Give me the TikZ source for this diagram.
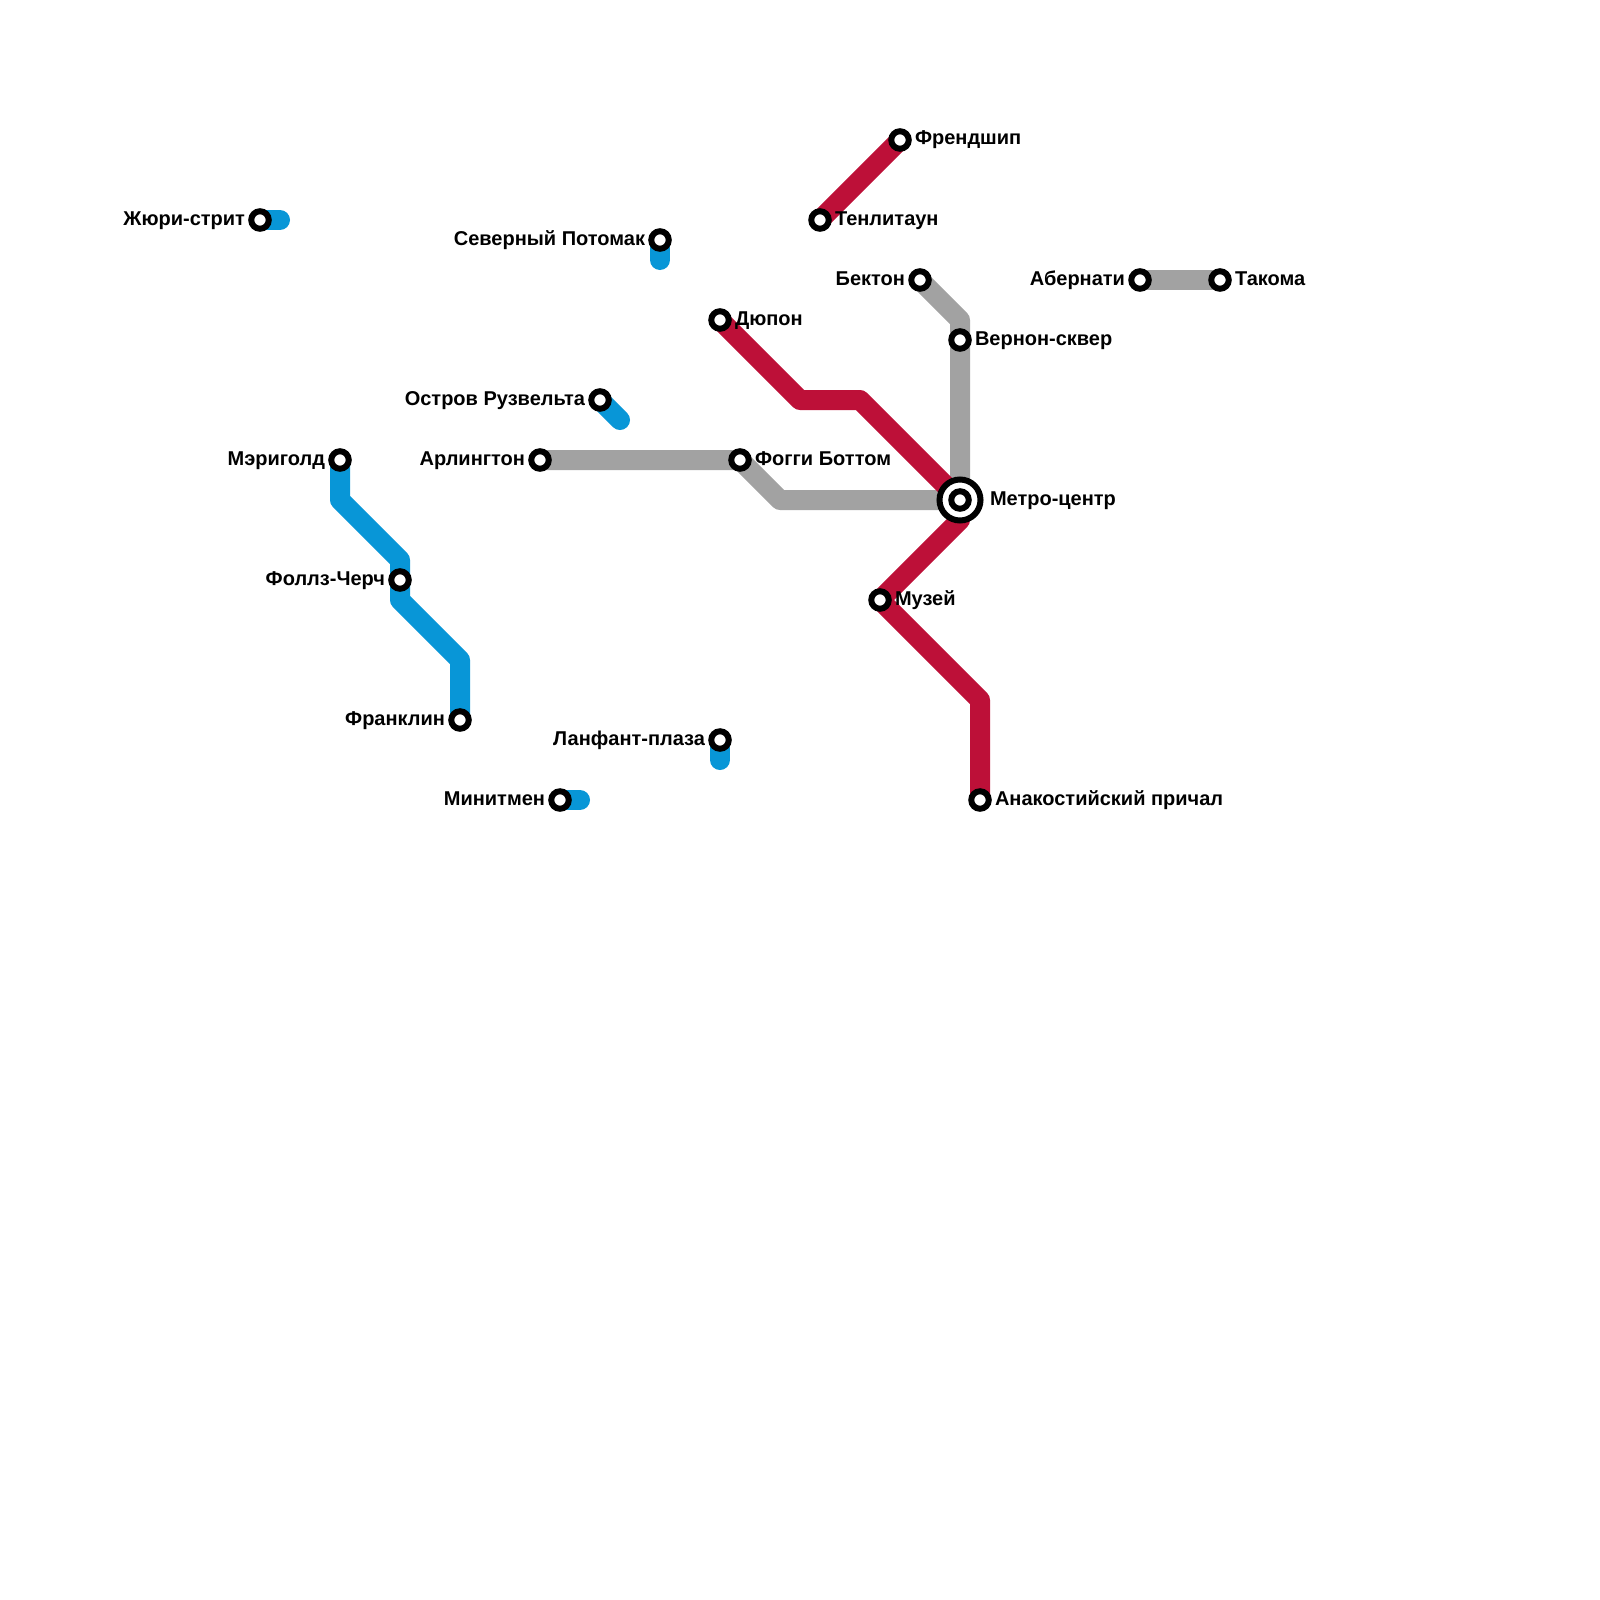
\documentclass[tikz,border=0pt]{standalone}
\usepackage{fontspec}
\setmainfont{Liberation Sans}
\usetikzlibrary{backgrounds}
\definecolor{lblue}{HTML}{0896D7}
\definecolor{lgray}{HTML}{A2A2A2}
\definecolor{lred}{HTML}{BD1038}
\tikzset{
  x=1pt,y=-1pt,
  metroline/.style={line width=20pt,line cap=round,line join=round},
  stn/.style={circle,draw=black,fill=white,line width=6pt,minimum size=17.5pt,inner sep=0pt,outer sep=0pt},
  hub/.style={circle,draw=black,fill=white,line width=6pt,minimum size=41pt,inner sep=0pt,outer sep=0pt},
  lab/.style={inner sep=0pt,outer sep=0pt,font=\bfseries\fontsize{20pt}{22pt}\selectfont,text=black},
  labr/.style={lab,anchor=base west},
  labl/.style={lab,anchor=base east},
}
\begin{document}
\begin{tikzpicture}
\useasboundingbox (0,0) rectangle (1600,1600);
% stations
\node[hub] (metrohub) at (960,500) {};
\node[stn] (metro) at (960,500) {};
\foreach \n/\x/\y in {juri/260/220,marigold/340/460,falls/400/580,franklin/460/720,potomac/660/240,island/600/400,arlington/540/460,foggy/740/460,bekton/920/280,vernon/960/340,abernathy/1140/280,takoma/1220/280,dupont/720/320,friendship/900/140,tenley/820/220,museum/880/600,wharf/980/800,lenfant/720/740,minuteman/560/800}
  {\node[stn] (\n) at (\x,\y) {};}
% bends and free ends
\coordinate (b1) at (340,500);
\coordinate (b2) at (400,560);
\coordinate (b3) at (400,600);
\coordinate (b4) at (460,660);
\coordinate (e1) at (280,220);
\coordinate (e2) at (660,260);
\coordinate (e3) at (620,420);
\coordinate (e4) at (720,760);
\coordinate (e5) at (580,800);
\coordinate (g1) at (780,500);
\coordinate (g2) at (960,320);
\coordinate (r1) at (800,400);
\coordinate (r2) at (860,400);
\coordinate (r3) at (980,700);
\coordinate (r4) at (960,520);
\begin{scope}[on background layer]
\draw[metroline,lblue] (juri.center) -- (e1);
\draw[metroline,lblue] (marigold.center) -- (b1) -- (b2) -- (falls.center) -- (b3) -- (b4) -- (franklin.center);
\draw[metroline,lblue] (potomac.center) -- (e2);
\draw[metroline,lblue] (island.center) -- (e3);
\draw[metroline,lblue] (lenfant.center) -- (e4);
\draw[metroline,lblue] (minuteman.center) -- (e5);
\draw[metroline,lgray] (arlington.center) -- (foggy.center) -- (g1) -- (metro.center);
\draw[metroline,lgray] (bekton.center) -- (g2) -- (vernon.center) -- (metro.center);
\draw[metroline,lgray] (abernathy.center) -- (takoma.center);
\draw[metroline,lred] (friendship.center) -- (tenley.center);
\draw[metroline,lred] (dupont.center) -- (r1) -- (r2) -- (metro.center) -- (r4) -- (museum.center) -- (r3) -- (wharf.center);
\end{scope}
% labels
\node[labl] (tjuri) at (245,225) {Жюри-стрит};
\node[labl] (tmarigold) at (325,465) {Мэриголд};
\node[labl] (tfalls) at (385,585) {Фоллз-Черч};
\node[labl] (tfranklin) at (445,725) {Франклин};
\node[labl] (tpotomac) at (645,245) {Северный Потомак};
\node[labl] (tisland) at (585,405) {Остров Рузвельта};
\node[labl] (tarlington) at (525,465) {Арлингтон};
\node[labl] (tbekton) at (905,285) {Бектон};
\node[labl] (tabernathy) at (1125,285) {Абернати};
\node[labl] (tlenfant) at (705,745) {Ланфант-плаза};
\node[labl] (tminuteman) at (545,805) {Минитмен};
\node[labr] (tfoggy) at (755,465) {Фогги Боттом};
\node[labr] (tvernon) at (975,345) {Вернон-сквер};
\node[labr] (ttakoma) at (1235,285) {Такома};
\node[labr] (tdupont) at (735,325) {Дюпон};
\node[labr] (tfriendship) at (915,145) {Френдшип};
\node[labr] (ttenley) at (835,225) {Тенлитаун};
\node[labr] (tmuseum) at (895,605) {Музей};
\node[labr] (twharf) at (995,805) {Анакостийский причал};
\node[labr] (tmetro) at (990,505) {Метро-центр};
\end{tikzpicture}
\end{document}
